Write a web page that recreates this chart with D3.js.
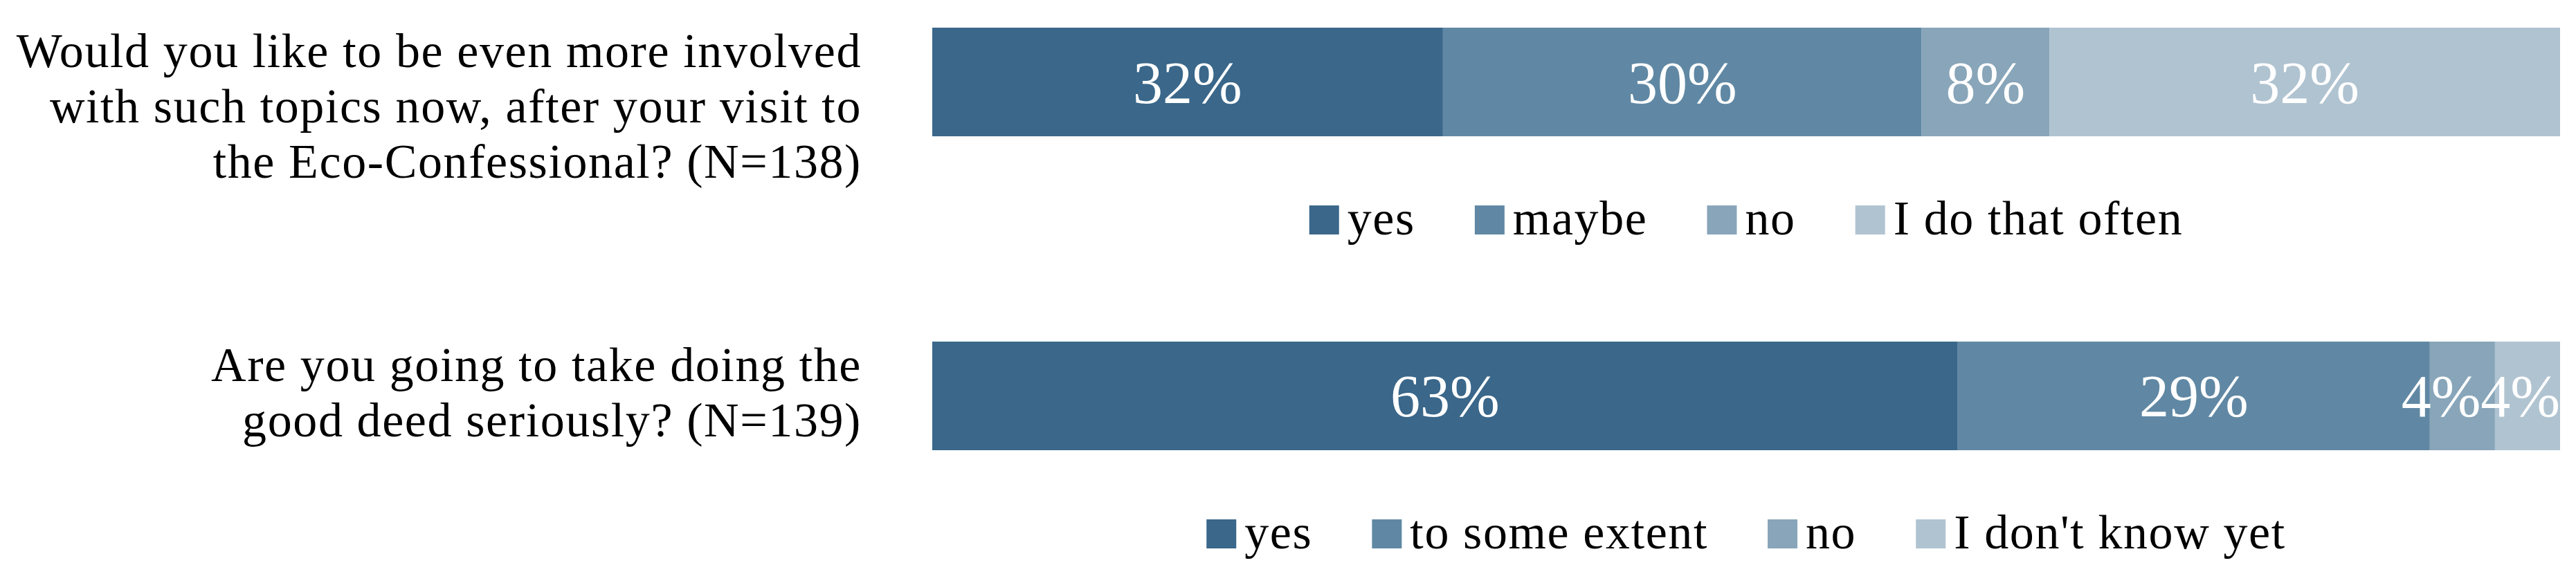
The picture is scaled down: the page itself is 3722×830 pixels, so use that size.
<!DOCTYPE html>
<html>
<head>
<meta charset="utf-8">
<script src="https://cdn.jsdelivr.net/npm/d3@7"></script>
<style>
  html, body { margin: 0; padding: 0; background: #ffffff; }
  svg { display: block; }
  text { font-family: "Liberation Serif", "Times New Roman", serif; }
</style>
</head>
<body>
<svg id="chart" width="3722" height="830"></svg>
<script>
// ---------------- data ----------------
const questions = ["q1", "q2"];
const questionLines = [
  ["Would you like to be even more involved", "with such topics now, after your visit to", "the Eco-Confessional? (N=138)"],
  ["Are you going to take doing the", "good deed seriously? (N=139)"]
];
const answersQ1 = ["yes", "maybe", "no", "I do that often"];
const valuesQ1 = [32, 30, 8, 32];
const answersQ2 = ["yes", "to some extent", "no", "I don't know yet"];
const valuesQ2 = [63, 29, 4, 4];
const colors = ["#3a678a", "#6088a4", "#88a5b9", "#b0c3d1"];

// ---------------- layout ----------------
const plotLeft = 1347, plotRight = 3699;
const labelRight = 1245;
const svg = d3.select("#chart");

const x = d3.scaleLinear().domain([0, 1]).range([plotLeft, plotRight]);
const y = d3.scaleBand().domain(questions).range([40, 651]).paddingInner(0.654).paddingOuter(0);
const color = d3.scaleOrdinal().domain(d3.range(4)).range(colors);

const rows = [
  { key: "q1", lines: questionLines[0], answers: answersQ1, values: valuesQ1 },
  { key: "q2", lines: questionLines[1], answers: answersQ2, values: valuesQ2 }
];

const textSize = 70, textSpacing = 1.6;

rows.forEach(row => {
  const keys = d3.range(row.values.length);
  const datum = {};
  keys.forEach(k => datum[k] = row.values[k]);
  const series = d3.stack().keys(keys).offset(d3.stackOffsetExpand)([datum]);
  const top = y(row.key), bw = y.bandwidth();
  const g = svg.append("g");

  // bars
  g.selectAll("rect.seg").data(series).join("rect")
    .attr("class", "seg")
    .attr("x", s => x(s[0][0]))
    .attr("y", top)
    .attr("width", s => x(s[0][1]) - x(s[0][0]))
    .attr("height", bw)
    .attr("fill", (s, i) => color(i));

  // value labels
  const labels = g.selectAll("text.val").data(series).join("text")
    .attr("class", "val")
    .attr("x", s => (x(s[0][0]) + x(s[0][1])) / 2)
    .attr("y", top + bw / 2 + 30)
    .attr("text-anchor", "middle")
    .attr("fill", "#ffffff")
    .attr("font-size", 86)
    .text((s, i) => row.values[i] + "%");

  // keep labels inside the bar end and avoid collisions (right to left)
  const nodes = labels.nodes();
  let limit = plotRight;
  for (let i = nodes.length - 1; i >= 0; i--) {
    const w = nodes[i].getComputedTextLength();
    let cx = +nodes[i].getAttribute("x");
    if (cx + w / 2 > limit) cx = limit - w / 2;
    nodes[i].setAttribute("x", cx);
    limit = cx - w / 2;
  }

  // question label
  const qt = g.append("text")
    .attr("text-anchor", "end")
    .attr("font-size", textSize)
    .attr("letter-spacing", textSpacing)
    .attr("fill", "#000000");
  row.lines.forEach((ln, i) => {
    qt.append("tspan").attr("x", labelRight).attr("y", top + 57 + i * 80).text(ln);
  });

  // legend
  const lg = g.append("g");
  const sq = 43, gapText = 12, gapItem = 86;
  const legTop = top + bw + 100;
  let cursor = 0;
  row.answers.forEach((a, i) => {
    const it = lg.append("g");
    it.append("rect").attr("x", 0).attr("y", 0).attr("width", sq).attr("height", 42).attr("fill", color(i));
    const t = it.append("text").attr("x", sq + gapText).attr("y", 42)
      .attr("font-size", textSize).attr("letter-spacing", textSpacing)
      .attr("fill", "#000").text(a);
    const w = sq + gapText + t.node().getComputedTextLength();
    it.attr("transform", `translate(${cursor},${legTop})`);
    cursor += w + gapItem;
  });
  const totalW = cursor - gapItem;
  const cx = (plotLeft + plotRight) / 2;
  lg.attr("transform", `translate(${cx - totalW / 2},0)`);
});
</script>
</body>
</html>
